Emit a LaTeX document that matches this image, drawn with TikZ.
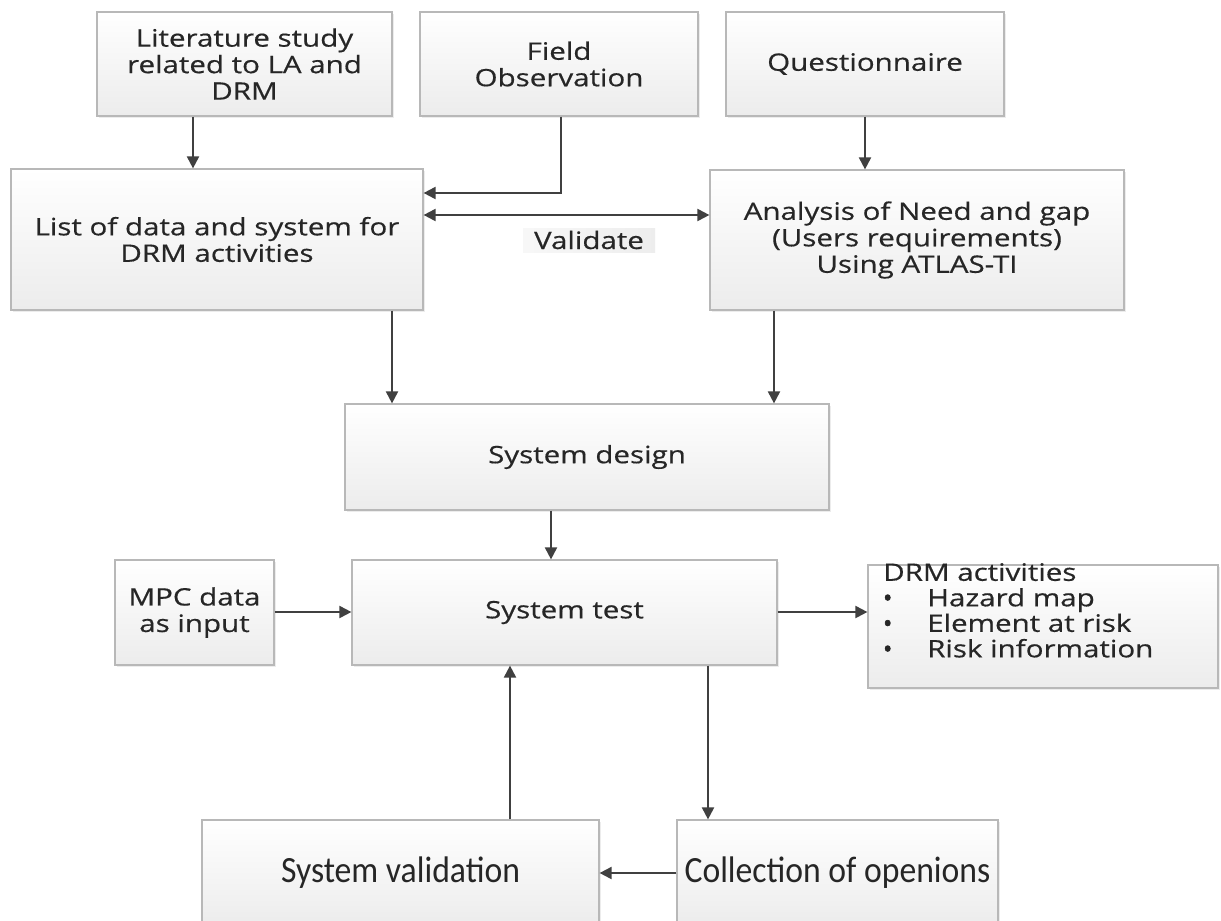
\documentclass[tikz,border=0pt]{standalone}
\usepackage{fontspec}
\setmainfont{Open Sans}[FakeStretch=1.23, FakeBold=0.5]
\newfontfamily\condensed{Carlito}[FakeStretch=0.91]
\newfontfamily\dotfont{Open Sans}[FakeBold=2.5]
\usetikzlibrary{arrows.meta,shadows}
\definecolor{edge}{HTML}{B8B8B8}
\definecolor{ink}{HTML}{404040}
\definecolor{txt}{HTML}{262626}
\tikzset{
  box/.style={draw=edge, line width=1.2pt, top color=white, bottom color=gray!15,
    drop shadow={opacity=0.15, shadow xshift=2pt, shadow yshift=-2pt},
    align=center, inner sep=0pt, text=txt, font=\fontsize{24}{26.5}\selectfont},
  lowbox/.style={box, font=\condensed\fontsize{37}{40}\selectfont},
  flow/.style={draw=ink, line width=2pt, -{Triangle[length=12pt,width=12pt]}},
  both/.style={draw=ink, line width=2pt, {Triangle[length=12pt,width=12pt]}-{Triangle[length=12pt,width=12pt]}},
}
\newcommand{\dotitem}{\makebox[44pt][l]{{\dotfont\textbullet}}}
\begin{document}
\begin{tikzpicture}[x=1pt, y=-1pt]
  \useasboundingbox (0,0) rectangle (1221,921);
  \clip (0,0) rectangle (1221,921);
  \fill[white] (0,0) rectangle (1221,921);

  % sources
  \node[box, minimum width=295, minimum height=104] (lit) at (244.5,64)
    {Literature study\\related to LA and\\DRM};
  \node[box, minimum width=278, minimum height=104] (field) at (559,64)
    {Field\\Observation};
  \node[box, minimum width=278, minimum height=104] (quest) at (865,64)
    {Questionnaire};

  % second row
  \node[box, minimum width=412, minimum height=141] (list) at (217,239.5)
    {List of data and system for\\DRM activities};
  \node[box, minimum width=414, minimum height=140] (anal) at (917,240)
    {Analysis of Need and gap\\(Users requirements)\\Using ATLAS-TI};

  % design and test
  \node[box, minimum width=484, minimum height=106] (design) at (587,457)
    {System design};
  \node[box, minimum width=425, minimum height=105] (test) at (564.5,612.5)
    {System test};
  \node[box, minimum width=159, minimum height=105] (mpc) at (194.5,612.5)
    {MPC data\\as input};
  \node[box, minimum width=350, minimum height=123] (drm) at (1043,626.5) {};
  \node[anchor=north west, inner sep=0pt, align=left, text=txt,
        font=\fontsize{24}{25.5}\selectfont] (drmtext) at (883,563)
    {DRM activities\\
     \dotitem Hazard map\\
     \dotitem Element at risk\\
     \dotitem Risk information};

  % validation loop
  \node[lowbox, minimum width=397, minimum height=106] (valid) at (400.5,873)
    {System validation};
  \node[lowbox, minimum width=321, minimum height=106] (coll) at (837.5,873)
    {Collection of openions};

  % label of the two-way link
  \node[left color=gray!6, right color=gray!14, minimum width=132, minimum height=24,
        inner sep=0pt, text=txt, font=\fontsize{24}{26}\selectfont] (vlabel) at (589,240)
    {Validate};

  % guide coordinates for connectors
  \coordinate (xa) at (392,0);
  \coordinate (xb) at (774,0);
  \coordinate (xc) at (551,0);
  \coordinate (xd) at (510,0);
  \coordinate (xe) at (708,0);
  \coordinate (xf) at (561,0);
  \coordinate (xg) at (193,0);
  \coordinate (ya) at (0,193);
  \coordinate (yb) at (0,215);
  \coordinate (yc) at (0,612);
  \coordinate (yd) at (0,873);
  \coordinate (bend) at (561,193);

  % connectors
  \draw[flow] (lit.south -| xg) -- (list.north -| xg);
  \draw[flow] (field.south -| xf) -- (bend) -- (list.east |- ya);
  \draw[both] (list.east |- yb) -- (anal.west |- yb);
  \draw[flow] (quest.south) -- (anal.north -| quest.south);
  \draw[flow] (list.south -| xa) -- (design.north -| xa);
  \draw[flow] (anal.south -| xb) -- (design.north -| xb);
  \draw[flow] (design.south -| xc) -- (test.north -| xc);
  \draw[flow] (mpc.east |- yc) -- (test.west |- yc);
  \draw[flow] (test.east |- yc) -- (drm.west |- yc);
  \draw[flow] (valid.north -| xd) -- (test.south -| xd);
  \draw[flow] (test.south -| xe) -- (coll.north -| xe);
  \draw[flow] (coll.west |- yd) -- (valid.east |- yd);
\end{tikzpicture}
\end{document}
